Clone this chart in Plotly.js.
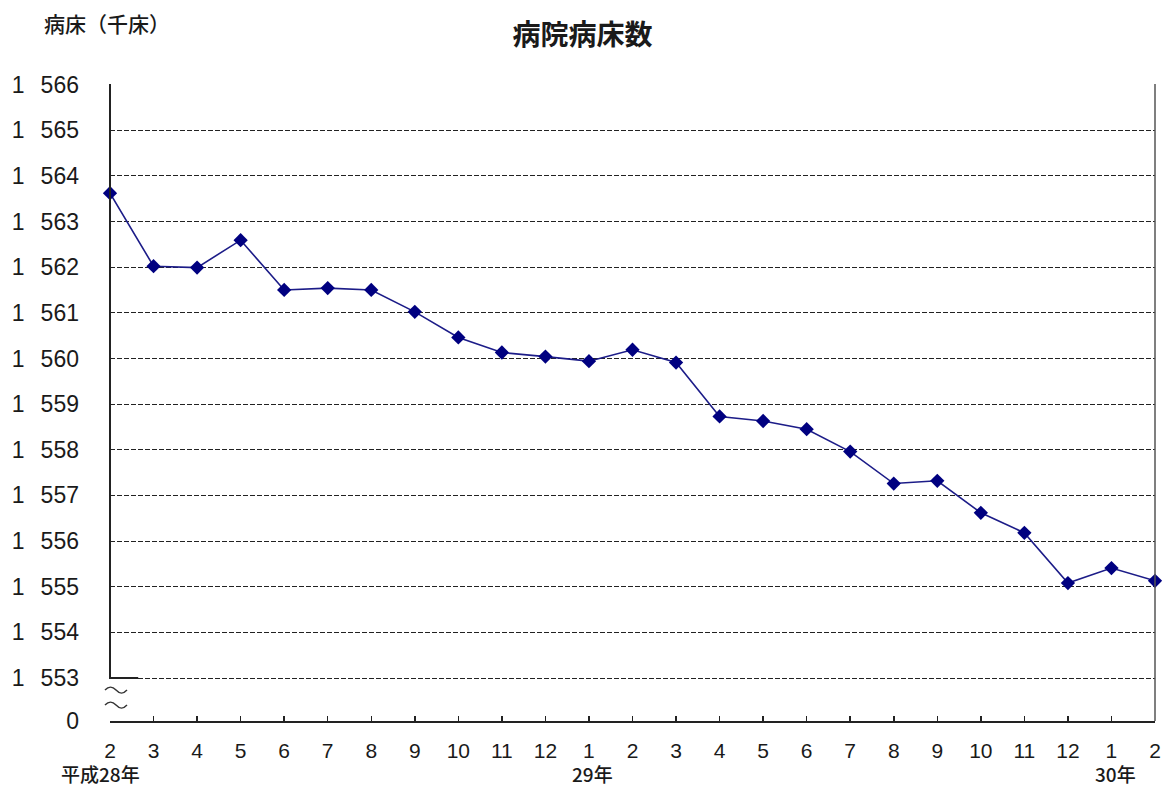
<!DOCTYPE html>
<html>
<head>
<meta charset="utf-8">
<script src="https://cdn.plot.ly/plotly-3.0.1.min.js"></script>
<style>html,body{margin:0;padding:0;background:#fff;}#chart{width:1165px;height:787px;}</style>
</head>
<body>
<div id="chart"></div>
<script>
// Month labels (平成28年2月 〜 平成30年2月)
const months = ["2","3","4","5","6","7","8","9","10","11","12","1","2","3","4","5","6","7","8","9","10","11","12","1","2"];
// Hospital beds (thousand beds)
const beds = [1563.62, 1562.02, 1561.99, 1562.59, 1561.50, 1561.54, 1561.50, 1561.02, 1560.46, 1560.13,
              1560.04, 1559.94, 1560.19, 1559.91, 1558.73, 1558.63, 1558.45, 1557.96, 1557.26, 1557.32,
              1556.62, 1556.18, 1555.08, 1555.41, 1555.13];
// Year labels under the month axis: [month index, text]
const yearIdx = [0, 11, 23];
const yearText = ["平成28年", "29年", "30年"];
// Y-axis tick values/labels (with break to 0)
const yTickVals = [1553,1554,1555,1556,1557,1558,1559,1560,1561,1562,1563,1564,1565,1566];
const yTickText = yTickVals.map(v => String(v).slice(0,1) + "\u2002\u2009" + String(v).slice(1));
const yBreakVal = 1552.07;   // position where "0" is shown after the axis break
const yBreakText = "0";

const xIdx = months.map((_, i) => i);
const FONT = "Liberation Sans, Arial, Noto Sans CJK JP, sans-serif";
const CJK = "Noto Sans CJK JP, sans-serif";
const TXT = "#1a1a1a";

const trace = {
  x: xIdx,
  y: beds,
  type: "scatter",
  mode: "lines+markers",
  line: {color: "#1c1c88", width: 1.6},
  marker: {symbol: "diamond", size: 11, color: "#000080"},
  cliponaxis: false,
  hoverinfo: "x+y"
};

const annotations = [
  {text: "病床（千床）", xref: "paper", yref: "paper", x: -0.065, y: 1, xanchor: "left", yanchor: "middle",
   yshift: 61, showarrow: false, font: {family: CJK, size: 21, color: TXT, weight: 500}}
];
yearIdx.forEach((xi, k) => {
  annotations.push({text: yearText[k], xref: "x", yref: "paper", x: xi, y: 0,
    xanchor: "center", yanchor: "middle", yshift: -52, xshift: k === 0 ? -10 : 4,
    showarrow: false, font: {family: CJK, size: 19, color: TXT, weight: 500}});
});

// axis-break wave marks (pixel-sized, anchored at the bottom of the broken axis)
function wave(dy) {
  return {type: "path", xref: "paper", yref: "y", xsizemode: "pixel", ysizemode: "pixel",
    xanchor: 0, yanchor: 1553,
    path: `M -5 ${dy} Q 0.5 ${dy + 6} 6 ${dy} Q 11.5 ${dy - 6} 17 ${dy}`,
    line: {color: "#333", width: 1.4}};
}

const layout = {
  width: 1165, height: 787,
  margin: {l: 110, r: 10, t: 84, b: 66},
  paper_bgcolor: "#fff", plot_bgcolor: "#fff",
  showlegend: false,
  title: {text: "病院病床数", x: 0.5, xanchor: "center", y: 0.955, yanchor: "middle",
          font: {family: CJK, size: 28, color: TXT, weight: "bold"}},
  xaxis: {
    range: [0, 24], tickmode: "array", tickvals: xIdx, ticktext: months,
    showgrid: false, zeroline: false, showline: true, linecolor: "#222", linewidth: 2,
    ticks: "inside", ticklen: 5, tickcolor: "#222", tickwidth: 1.5,
    ticklabelstandoff: 10,
    tickfont: {family: FONT, size: 21, color: TXT}
  },
  yaxis: {
    range: [1552.06, 1566.01], tickmode: "array",
    tickvals: [yBreakVal].concat(yTickVals), ticktext: [yBreakText].concat(yTickText),
    showgrid: true, gridcolor: "#222", gridwidth: 1, griddash: "5px,2px",
    zeroline: false, showline: false, ticks: "",
    ticklabelstandoff: 30,
    tickfont: {family: FONT, size: 23, color: TXT}
  },
  shapes: [
    // left axis line down to the break, with short solid foot at 1553
    {type: "path", xref: "paper", yref: "y",
     path: "M 0 1566.01 L 0 1553 L 0.027 1553", line: {color: "#222", width: 2}},
    // right border
    {type: "line", xref: "paper", yref: "paper", x0: 1, x1: 1, y0: 0, y1: 1,
     line: {color: "#555", width: 1.5}},
    wave(-12),
    wave(-27)
  ],
  annotations: annotations
};

Plotly.newPlot("chart", [trace], layout, {displayModeBar: false, staticPlot: true});
</script>
</body>
</html>
